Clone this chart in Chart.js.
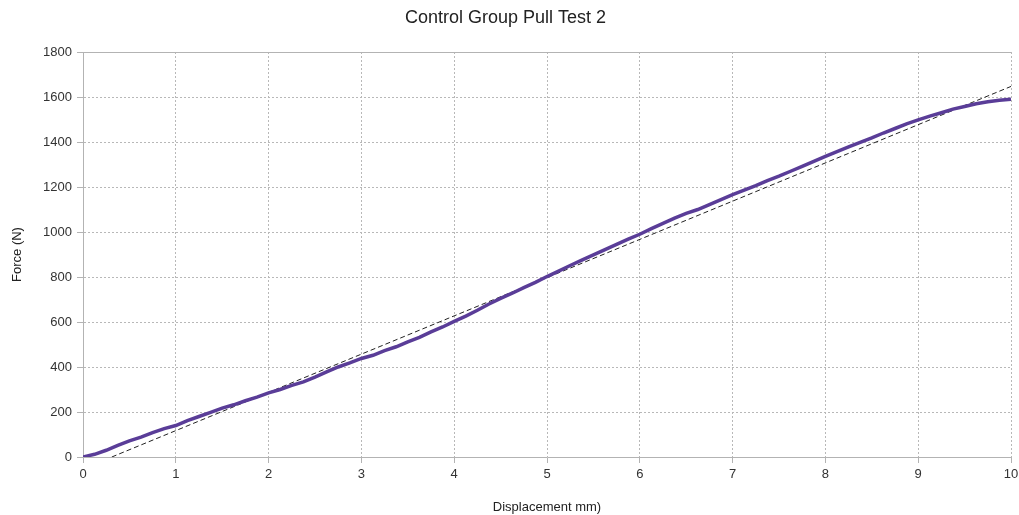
<!DOCTYPE html>
<html>
<head>
<meta charset="utf-8">
<script src="https://cdn.jsdelivr.net/npm/chart.js@4.4.0/dist/chart.umd.min.js"></script>
<style>
  html, body { margin: 0; padding: 0; background: #fff; }
  #wrap { width: 1019px; height: 515px; }
</style>
</head>
<body>
<div id="wrap"><canvas id="chart"></canvas></div>
<script>
// displacement (mm) and force (N)
const displacement = [0, 0.125, 0.25, 0.375, 0.5, 0.625, 0.75, 0.875, 1, 1.125, 1.25, 1.375, 1.5, 1.625, 1.75, 1.875,
  2, 2.125, 2.25, 2.375, 2.5, 2.625, 2.75, 2.875, 3, 3.125, 3.25, 3.375, 3.5, 3.625, 3.75, 3.875,
  4, 4.125, 4.25, 4.375, 4.5, 4.625, 4.75, 4.875, 5, 5.125, 5.25, 5.375, 5.5, 5.625, 5.75, 5.875,
  6, 6.125, 6.25, 6.375, 6.5, 6.625, 6.75, 6.875, 7, 7.125, 7.25, 7.375, 7.5, 7.625, 7.75, 7.875,
  8, 8.125, 8.25, 8.375, 8.5, 8.625, 8.75, 8.875, 9, 9.125, 9.25, 9.375, 9.5, 9.625, 9.75, 9.875, 10]
const force = [0, 12, 30, 52, 72, 88, 108, 126, 140, 162, 180, 198, 217, 232, 250, 266,
  285, 300, 318, 334, 355, 378, 400, 418, 438, 452, 473, 490, 512, 532, 556, 578,
  603, 626, 652, 680, 705, 728, 753, 776, 802, 826, 851, 875, 898, 922, 945, 968,
  990, 1015, 1038, 1062, 1083, 1100, 1122, 1144, 1166, 1186, 1206, 1228, 1248, 1270, 1292, 1314,
  1336, 1357, 1378, 1398, 1418, 1440, 1460, 1481, 1498, 1515, 1530, 1546, 1558, 1570, 1579, 1586, 1590]

// linear trend line end points
const trendX = [0.31, 10]
const trendY = [0, 1647]

const xTicks = [0, 1, 2, 3, 4, 5, 6, 7, 8, 9, 10]
const yTicks = [0, 200, 400, 600, 800, 1000, 1200, 1400, 1600, 1800]

Chart.defaults.font.family = "'Liberation Sans', Arial, sans-serif"
Chart.defaults.color = '#333'

const topLine = {
  id: 'topLine',
  afterDraw(c) {
    const a = c.chartArea, ctx = c.ctx
    ctx.save()
    ctx.strokeStyle = '#b3b3b3'
    ctx.lineWidth = 1
    ctx.beginPath()
    ctx.moveTo(a.left, a.top + 0.5)
    ctx.lineTo(a.right, a.top + 0.5)
    ctx.stroke()
    ctx.restore()
  }
}

new Chart(document.getElementById('chart'), {
  type: 'scatter',
  data: {
    datasets: [{
      label: 'Force',
      data: displacement.map((x, i) => ({ x: x, y: force[i] })),
      showLine: true,
      borderColor: '#5a3d98',
      borderWidth: 3.5,
      pointRadius: 0,
      tension: 0
    }, {
      label: 'Trend',
      data: trendX.map((x, i) => ({ x: x, y: trendY[i] })),
      showLine: true,
      borderColor: '#222',
      borderWidth: 1,
      borderDash: [5, 3],
      pointRadius: 0
    }]
  },
  options: {
    responsive: true,
    maintainAspectRatio: false,
    animation: false,
    layout: { padding: { right: 8, top: 0, bottom: 0, left: 0 } },
    plugins: {
      legend: { display: false },
      tooltip: { enabled: false },
      title: {
        display: true,
        text: 'Control Group Pull Test 2',
        color: '#222',
        font: { size: 18, weight: 'normal' },
        padding: { top: 7, bottom: 23.4 }
      }
    },
    scales: {
      x: {
        type: 'linear',
        min: 0,
        max: 10,
        afterBuildTicks: s => { s.ticks = xTicks.map(v => ({ value: v })) },
        afterFit: s => { s.height = 58; s.paddingLeft = 0; s.paddingRight = 0 },
        ticks: { font: { size: 13 }, padding: 4, color: '#333' },
        grid: { color: '#b8b8b8', tickColor: '#b3b3b3', tickLength: 6, tickBorderDash: [] },
        border: { color: '#b3b3b3', dash: [2, 2] },
        title: {
          display: true,
          text: 'Displacement mm)',
          color: '#222',
          font: { size: 13 },
          padding: { top: 5, bottom: 0 }
        }
      },
      y: {
        min: 0,
        max: 1800,
        afterBuildTicks: s => { s.ticks = yTicks.map(v => ({ value: v })) },
        afterFit: s => { s.width = 83 },
        ticks: { font: { size: 13 }, padding: 5, color: '#333', callback: v => String(v) },
        grid: { color: '#b8b8b8', tickColor: '#b3b3b3', tickLength: 6, tickBorderDash: [] },
        border: { color: '#b3b3b3', dash: [2, 2] },
        title: {
          display: true,
          text: 'Force (N)',
          color: '#222',
          font: { size: 13 },
          padding: { top: 10, bottom: 0 }
        }
      }
    }
  },
  plugins: [topLine]
})
</script>
</body>
</html>
